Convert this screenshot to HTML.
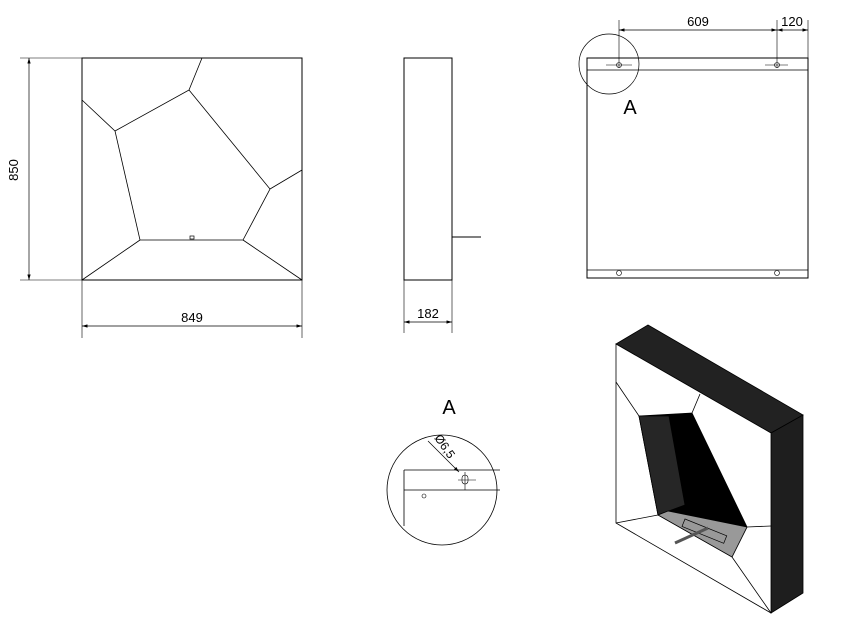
<!DOCTYPE html>
<html><head><style>body{margin:0;background:#fff}svg{display:block}text{font-family:"Liberation Sans",sans-serif;fill:#000}</style></head><body>
<svg width="846" height="632" viewBox="0 0 846 632" xmlns="http://www.w3.org/2000/svg">
<defs><marker id="a" viewBox="0 0 10 6" refX="10" refY="3" markerWidth="8" markerHeight="5" orient="auto-start-reverse"><path d="M0,0L10,3L0,6z" fill="#000"/></marker></defs>
<g stroke="#000" fill="none" stroke-width="1">
<!-- front view -->
<rect x="82" y="58" width="220" height="222"/>
<polygon points="115,131 189,90 270,189 243,240 140,240" stroke-width="0.8"/>
<path d="M82,100L115,131M202,58L189,90M302,170L270,189M302,280L243,240M82,280L140,240" stroke-width="0.8"/>
<rect x="190" y="236" width="4" height="3" stroke-width="0.7"/>
<path d="M20,58H82M20,280H82M82,280V338M302,280V338" stroke-width="0.6"/>
<line x1="29" y1="58" x2="29" y2="280" marker-start="url(#a)" marker-end="url(#a)" stroke-width="0.7"/>
<line x1="82" y1="326" x2="302" y2="326" marker-start="url(#a)" marker-end="url(#a)" stroke-width="0.7"/>
<!-- side view -->
<rect x="404" y="58" width="48" height="222"/>
<path d="M452,237H481"/>
<path d="M404,280V333M452,280V333" stroke-width="0.6"/>
<line x1="404" y1="322" x2="452" y2="322" marker-start="url(#a)" marker-end="url(#a)" stroke-width="0.7"/>
<!-- back view -->
<rect x="587" y="58" width="221" height="220"/>
<path d="M587,70H808M587,270H808" stroke-width="0.7"/>
<path d="M619,20V68M777,20V68M808,20V58" stroke-width="0.6"/>
<path d="M606,65H632M765,65H788" stroke-width="0.6"/>
<circle cx="619" cy="65" r="2.5" stroke-width="0.6"/><circle cx="777" cy="65" r="2.5" stroke-width="0.6"/>
<circle cx="619" cy="273" r="2.5" stroke-width="0.6"/><circle cx="777" cy="273" r="2.5" stroke-width="0.6"/>
<line x1="619" y1="30" x2="777" y2="30" marker-start="url(#a)" marker-end="url(#a)" stroke-width="0.7"/>
<line x1="777" y1="30" x2="808" y2="30" marker-start="url(#a)" marker-end="url(#a)" stroke-width="0.7"/>
<circle cx="609" cy="64" r="30" stroke-width="0.7"/>
<!-- detail A -->
<circle cx="442" cy="490" r="55" stroke-width="0.8"/>
<path d="M404,470H500M404,490H500M404,470V526" stroke-width="0.8"/>
<path d="M458,480H476M465,472V490" stroke-width="0.6"/>
<rect x="462" y="475" width="6" height="9" rx="3" stroke-width="0.6"/>
<circle cx="424" cy="496" r="2" stroke-width="0.6"/>
<line x1="428" y1="441" x2="459" y2="472" marker-end="url(#a)" stroke-width="0.7"/>
</g>
<text x="18" y="170" font-size="13" text-anchor="middle" transform="rotate(-90 18 170)">850</text>
<text x="192" y="322" font-size="13" text-anchor="middle">849</text>
<text x="428" y="318" font-size="13" text-anchor="middle">182</text>
<text x="698" y="26" font-size="13" text-anchor="middle">609</text>
<text x="792" y="26" font-size="13" text-anchor="middle">120</text>
<text x="630" y="114" font-size="20" text-anchor="middle">A</text>
<text x="449" y="414" font-size="20" text-anchor="middle">A</text>
<text x="434" y="438" font-size="12" transform="rotate(55 434 438)">Ø6,5</text>
<!-- isometric -->
<g stroke="#000" stroke-width="0.8">
<polygon points="616,344 648,325 803,415 771,433" fill="#222"/>
<polygon points="771,433 803,415 803,593 771,613" fill="#1e1e1e"/>
<polygon points="616,344 771,433 771,613 616,523" fill="#fff"/>
<polygon points="639,416 692,413 747,527 732,557 658,515" fill="#000"/>
<polygon points="639,416 669,416 685,505 658,515" fill="#262626"/>
<polygon points="668,511 747,527 732,557 658,515" fill="#999"/>
<rect x="685" y="519" width="45" height="8" fill="none" transform="rotate(22 685 519)" stroke-width="0.7"/>
<path d="M675,543L708,528" stroke="#555" stroke-width="3"/>
<path d="M616,382L639,416M700,394L692,413M771,526L747,527M616,523L658,515M771,613L732,557" fill="none"/>
</g>
</svg>
</body></html>
